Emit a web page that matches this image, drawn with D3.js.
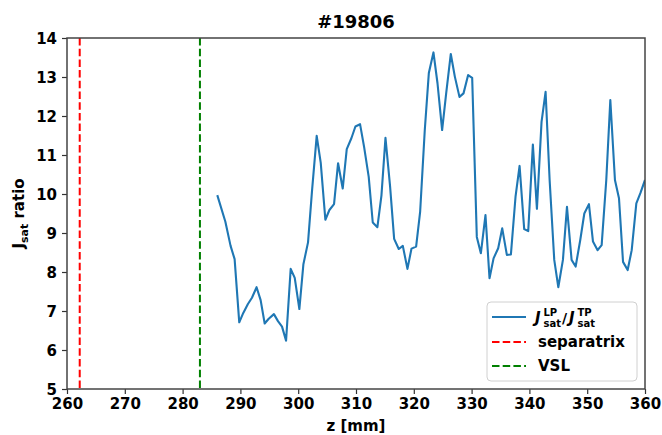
<!DOCTYPE html>
<html>
<head>
<meta charset="utf-8">
<script src="https://cdn.jsdelivr.net/npm/d3@7"></script>
<style>
    body { margin: 0; background: #fff; }
    text { font-family: "DejaVu Sans", sans-serif; font-weight: bold; fill: #000; }
</style>
</head>
<body>
<div id="chart"></div>
<script>
// z positions [mm] and Jsat ratio
var zVals = [286.0, 287.4, 288.3, 289.0, 289.8, 290.5, 291.3, 292.0, 292.8, 293.5,
    294.2, 294.9, 295.8, 296.5, 297.2, 297.9, 298.7, 299.4, 300.2, 300.9,
    301.7, 302.4, 303.2, 303.9, 304.7, 305.4, 306.2, 306.9, 307.7, 308.4,
    309.2, 309.9, 310.7, 311.4, 312.2, 312.9, 313.7, 314.4, 315.1, 315.9,
    316.6, 317.4, 318.1, 318.9, 319.6, 320.4, 321.1, 321.9, 322.6, 323.4,
    324.1, 324.9, 325.6, 326.4, 327.1, 327.9, 328.6, 329.4, 330.1, 330.9,
    331.6, 332.4, 333.1, 333.8, 334.6, 335.3, 336.1, 336.8, 337.6, 338.3,
    339.1, 339.8, 340.6, 341.3, 342.1, 342.8, 343.5, 344.3, 345.0, 345.8,
    346.5, 347.3, 348.0, 348.8, 349.5, 350.3, 351.0, 351.8, 352.5, 353.3,
    354.0, 354.8, 355.5, 356.2, 357.0, 357.7, 358.5, 359.2, 360.0];
var ratioVals = [9.97, 9.29, 8.67, 8.33, 6.71, 6.95, 7.18, 7.34, 7.61, 7.28,
    6.68, 6.80, 6.92, 6.74, 6.60, 6.24, 8.08, 7.85, 7.05, 8.20,
    8.76, 10.1, 11.49, 10.80, 9.34, 9.59, 9.74, 10.79, 10.14, 11.15,
    11.43, 11.73, 11.79, 11.21, 10.44, 9.27, 9.15, 9.96, 11.44, 10.19,
    8.85, 8.59, 8.67, 8.08, 8.60, 8.65, 9.55, 11.64, 13.1, 13.63,
    12.84, 11.64, 12.58, 13.59, 13.01, 12.49, 12.58, 13.05, 12.98, 8.90,
    8.48, 9.46, 7.84, 8.35, 8.61, 9.12, 8.44, 8.45, 9.93, 10.72,
    9.10, 9.05, 11.27, 9.62, 11.85, 12.62, 10.36, 8.31, 7.61, 8.31,
    9.67, 8.31, 8.14, 8.82, 9.50, 9.74, 8.78, 8.56, 8.69, 10.36,
    12.41, 10.36, 9.89, 8.26, 8.05, 8.56, 9.76, 10.02, 10.36];

var separatrixZ = 262.2;
var vslZ = 283.0;
var xTicks = [260, 270, 280, 290, 300, 310, 320, 330, 340, 350, 360];
var yTicks = [5, 6, 7, 8, 9, 10, 11, 12, 13, 14];
var title = "#19806";

var width = 662, height = 435;
var margin = {top: 38, right: 17, bottom: 46, left: 67};
var w = width - margin.left - margin.right;
var h = height - margin.top - margin.bottom;

var svg = d3.select("#chart").append("svg")
    .attr("width", width)
    .attr("height", height);

var x = d3.scaleLinear().domain([260, 360]).range([0, w]);
var y = d3.scaleLinear().domain([5, 14]).range([h, 0]);

var g = svg.append("g")
    .attr("transform", "translate(" + margin.left + "," + margin.top + ")");

svg.append("defs").append("clipPath").attr("id", "clip")
    .append("rect").attr("width", w).attr("height", h);

// vertical reference lines
g.append("line")
    .attr("x1", x(separatrixZ)).attr("x2", x(separatrixZ))
    .attr("y1", 0).attr("y2", h)
    .attr("stroke", "#ff0000").attr("stroke-width", 2)
    .attr("stroke-dasharray", "7.5,3.2");
g.append("line")
    .attr("x1", x(vslZ)).attr("x2", x(vslZ))
    .attr("y1", 0).attr("y2", h)
    .attr("stroke", "#008000").attr("stroke-width", 2)
    .attr("stroke-dasharray", "7.5,3.2");

var data = zVals.map(function(z, i) { return [z, ratioVals[i]]; });
var line = d3.line()
    .x(function(d) { return x(d[0]); })
    .y(function(d) { return y(d[1]); });

g.append("path")
    .datum(data)
    .attr("clip-path", "url(#clip)")
    .attr("fill", "none")
    .attr("stroke", "#1f77b4")
    .attr("stroke-width", 2.1)
    .attr("stroke-linejoin", "round")
    .attr("d", line);

// axes
var xAxis = g.append("g")
    .attr("transform", "translate(0," + h + ")")
    .call(d3.axisBottom(x).tickValues(xTicks).tickSize(5).tickPadding(4));
var yAxis = g.append("g")
    .call(d3.axisLeft(y).tickValues(yTicks).tickSize(5).tickPadding(5));

[xAxis, yAxis].forEach(function(a) {
    a.select(".domain").remove();
    a.selectAll(".tick line").attr("stroke", "#333").attr("stroke-width", 1.2);
    a.selectAll(".tick text")
        .style("font-family", "DejaVu Sans")
        .style("font-weight", "bold")
        .style("font-size", "15px")
        .attr("fill", "#000");
});
yAxis.selectAll(".tick text").attr("dy", "0.36em");
xAxis.selectAll(".tick text").attr("dy", "0.76em");

g.append("rect")
    .attr("width", w).attr("height", h)
    .attr("fill", "none")
    .attr("stroke", "#444")
    .attr("stroke-width", 1.5);

// title and labels
svg.append("text")
    .attr("x", margin.left + w / 2).attr("y", 28)
    .attr("text-anchor", "middle")
    .style("font-size", "18px")
    .text(title);

svg.append("text")
    .attr("x", margin.left + w / 2).attr("y", 431)
    .attr("text-anchor", "middle")
    .style("font-size", "15px")
    .text("z [mm]");

var yl = svg.append("text")
    .attr("transform", "translate(24," + (margin.top + h / 2) + ") rotate(-90)")
    .attr("text-anchor", "middle")
    .style("font-size", "15px");
yl.append("tspan").text("J");
yl.append("tspan").attr("dy", 4).style("font-size", "11px").text("sat");
yl.append("tspan").attr("dy", -4).text(" ratio");

// legend
var lg = svg.append("g").attr("transform", "translate(487,302)");
lg.append("rect")
    .attr("width", 150).attr("height", 79)
    .attr("rx", 4)
    .attr("fill", "#fff").attr("fill-opacity", 0.8)
    .attr("stroke", "#d0d0d0");

var rows = [
    {color: "#1f77b4", dash: null, y: 15},
    {color: "#ff0000", dash: "7.5,3.2", y: 40},
    {color: "#008000", dash: "7.5,3.2", y: 64}
];
rows.forEach(function(r) {
    lg.append("line")
        .attr("x1", 5).attr("x2", 39)
        .attr("y1", r.y).attr("y2", r.y)
        .attr("stroke", r.color).attr("stroke-width", 2)
        .attr("stroke-dasharray", r.dash);
});

// J_sat^LP / J_sat^TP
function jsat(xp, sup) {
    lg.append("text").attr("x", xp).attr("y", 21)
        .style("font-size", "15px").style("font-style", "italic")
        .text("J");
    lg.append("text").attr("x", xp + 8.5).attr("y", 14)
        .style("font-size", "10px").text(sup);
    lg.append("text").attr("x", xp + 8.5).attr("y", 25)
        .style("font-size", "10px").text("sat");
}
jsat(48, "LP");
lg.append("text").attr("x", 75).attr("y", 21)
    .style("font-size", "14px").text("/");
jsat(82, "TP");

lg.append("text").attr("x", 51).attr("y", 45)
    .style("font-size", "15px").text("separatrix");
lg.append("text").attr("x", 51).attr("y", 69)
    .style("font-size", "15px").text("VSL");
</script>
</body>
</html>
